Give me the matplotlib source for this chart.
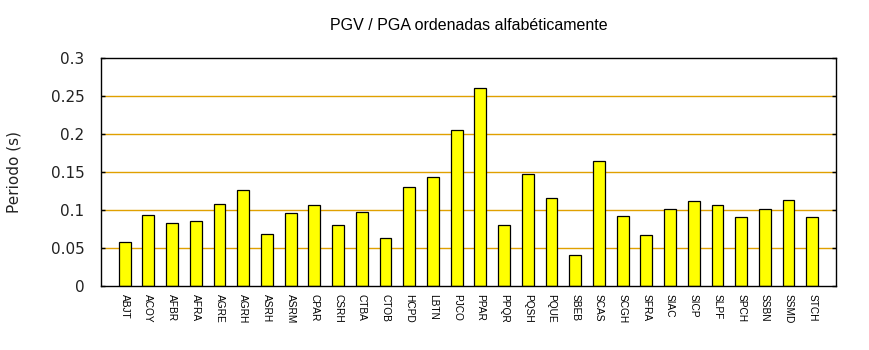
import numpy as np
import matplotlib
matplotlib.use('Agg')
import matplotlib.pyplot as plt

estaciones = ['ABJT', 'ACOY', 'AFBR', 'AFRA', 'AGRE', 'AGRH', 'ASRH', 'ASRM',
              'CPAR', 'CSRH', 'CTBA', 'CTOB', 'HCPD', 'LBTN', 'PJCO', 'PPAR',
              'PPQR', 'PQSH', 'PQUE', 'SBEB', 'SCAS', 'SCGH', 'SFRA', 'SIAC',
              'SICP', 'SLPF', 'SPCH', 'SSBN', 'SSMD', 'STCH']
periodo = [0.0575, 0.093, 0.0825, 0.085, 0.1075, 0.126, 0.069, 0.0955,
           0.106, 0.080, 0.098, 0.0625, 0.130, 0.144, 0.2048, 0.260,
           0.080, 0.148, 0.1155, 0.0405, 0.164, 0.0917, 0.0667, 0.101,
           0.1114, 0.106, 0.0905, 0.101, 0.1127, 0.0905]
yticks = [0, 0.05, 0.1, 0.15, 0.2, 0.25, 0.3]
ytick_labels = ['0', '0.05', '0.1', '0.15', '0.2', '0.25', '0.3']

fig = plt.figure(figsize=(8.7, 3.5), dpi=100)
ax = fig.add_axes([0.1161, 0.1829, 0.8448, 0.6514])

x = np.arange(len(estaciones))
for y in yticks[1:-1]:
    ax.axhline(y, color='#e0a000', lw=1.0, zorder=0)
ax.bar(x, periodo, width=0.5, color='#ffff00', edgecolor='black', lw=0.9, zorder=2)

ax.set_xlim(-1, len(estaciones))
ax.set_ylim(0, 0.3)
ax.set_xticks(x)
ax.set_xticklabels(estaciones, rotation=-90, fontsize=7.3, family='Liberation Sans')
ax.tick_params(axis='x', length=0, pad=6)
ax.set_yticks(yticks)
ax.set_yticklabels(ytick_labels, fontsize=11, color='#222222')
ax.tick_params(axis='y', direction='in', length=3, width=1, right=True, pad=12)
for s in ax.spines.values():
    s.set_linewidth(1)

ax.set_ylabel('Periodo (s)', fontsize=11, color='#222222', labelpad=21)
ax.set_title('PGV / PGA ordenadas alfabéticamente', fontsize=11.5,
             family='Liberation Sans', pad=20)

fig.savefig('out.png', dpi=100)
